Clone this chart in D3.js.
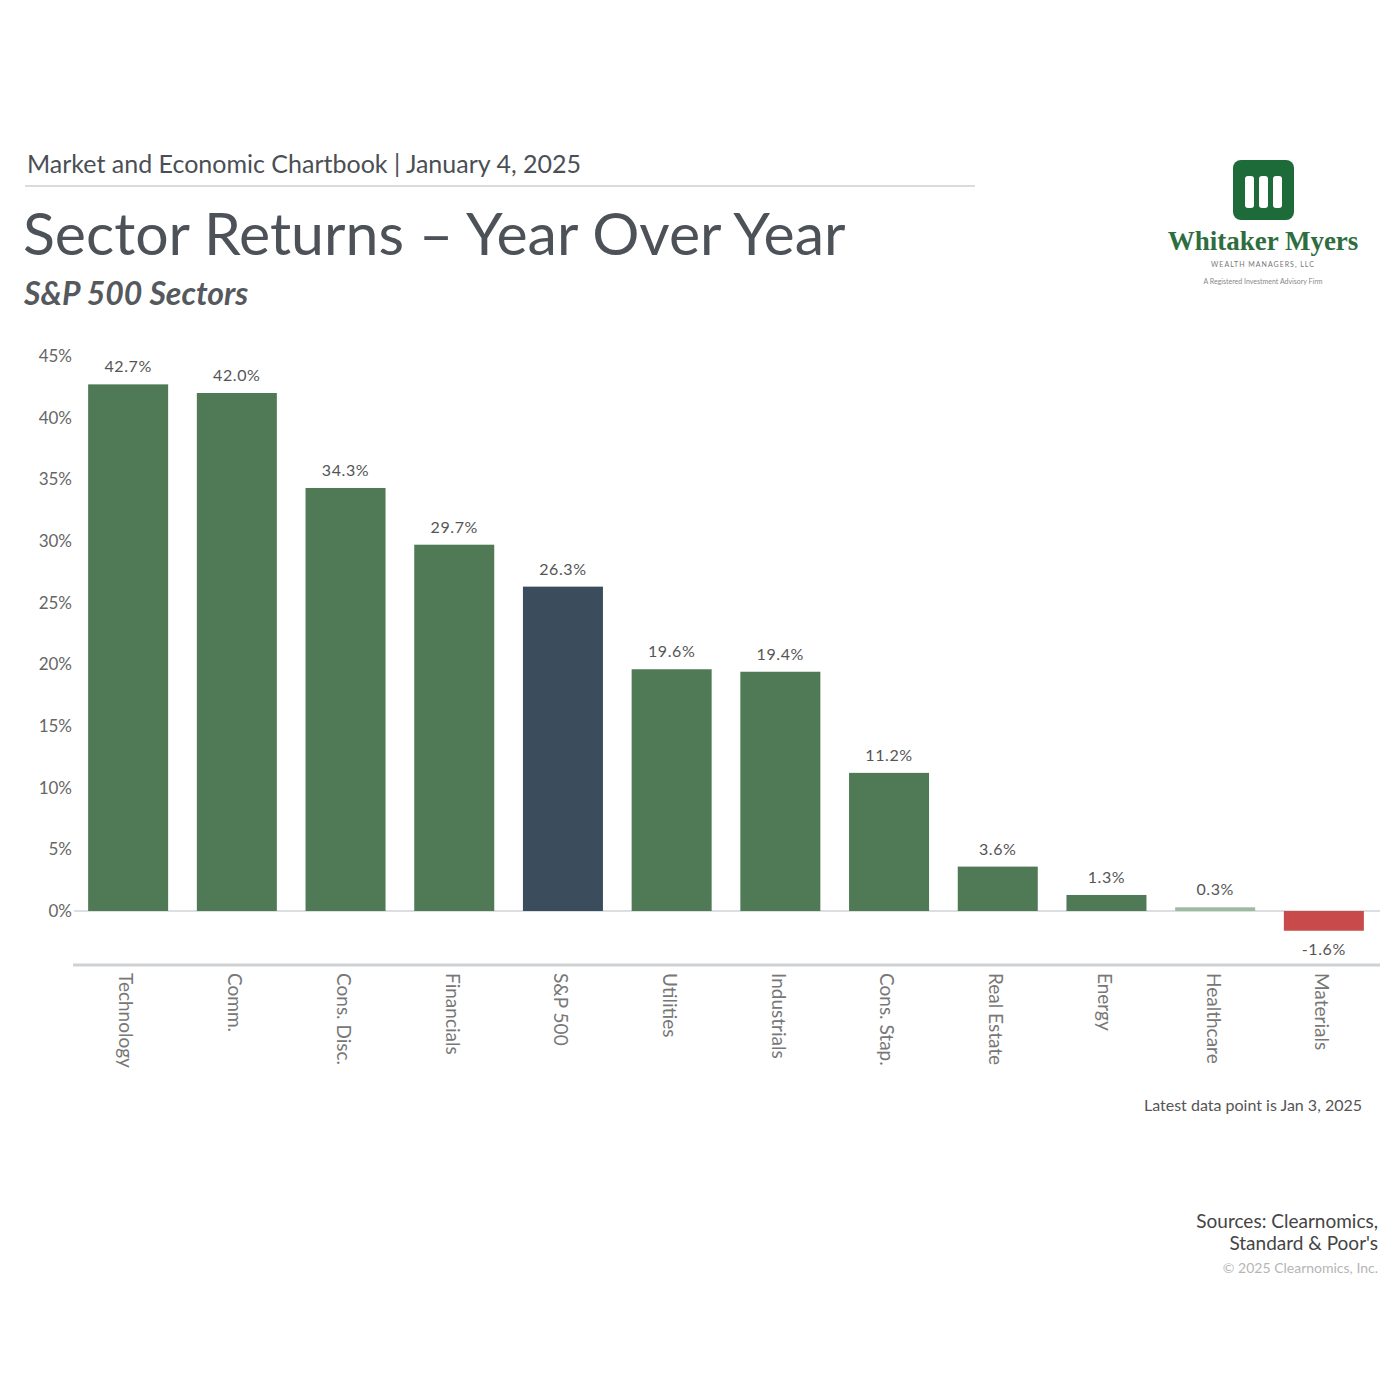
<!DOCTYPE html>
<html><head><meta charset="utf-8">
<script src="https://cdn.jsdelivr.net/npm/d3@7"></script>
<style>body{margin:0;background:#fff}svg{display:block}</style>
</head><body>
<svg id="c" width="1400" height="1400"></svg>
<script>
const categories = ["Technology","Comm.","Cons. Disc.","Financials","S&P 500","Utilities","Industrials","Cons. Stap.","Real Estate","Energy","Healthcare","Materials"];
const values = [42.7, 42.0, 34.3, 29.7, 26.3, 19.6, 19.4, 11.2, 3.6, 1.3, 0.3, -1.6];
const valueLabels = ["42.7%","42.0%","34.3%","29.7%","26.3%","19.6%","19.4%","11.2%","3.6%","1.3%","0.3%","-1.6%"];
const tickValues = [0,5,10,15,20,25,30,35,40,45];
const tickLabels = ["0%","5%","10%","15%","20%","25%","30%","35%","40%","45%"];

const svg = d3.select("#c");
const font = "Lato, 'Open Sans', sans-serif";

// header
svg.append("text").attr("x",27).attr("y",173).attr("font-family",font).attr("font-size",25)
  .attr("fill","#4a4f55").text("Market and Economic Chartbook | January 4, 2025");
svg.append("line").attr("x1",25).attr("x2",975).attr("y1",186).attr("y2",186).attr("stroke","#d9dcdf").attr("stroke-width",2);
svg.append("text").attr("x",23).attr("y",255).attr("font-family",font).attr("font-size",59)
  .attr("fill","#4d5259").text("Sector Returns – Year Over Year");
svg.append("text").attr("x",24).attr("y",305).attr("font-family",font).attr("font-size",32)
  .attr("font-style","italic").attr("font-weight","bold").attr("fill","#55595e").text("S&P 500 Sectors");

// logo
const lg = svg.append("g");
lg.append("rect").attr("x",1233).attr("y",160).attr("width",61).attr("height",60).attr("rx",8).attr("fill","#1e6b3a");
[1245,1259,1273].forEach(x=>{
  lg.append("rect").attr("x",x).attr("y",176).attr("width",9).attr("height",32).attr("rx",3).attr("fill","#fff");
});
lg.append("text").attr("x",1263).attr("y",250).attr("text-anchor","middle").attr("font-family","'Liberation Serif', serif")
  .attr("font-weight","bold").attr("font-size",27).attr("fill","#2e6e3e").text("Whitaker Myers");
lg.append("text").attr("x",1263).attr("y",267).attr("text-anchor","middle").attr("font-family",font)
  .attr("font-size",7).attr("letter-spacing",1).attr("fill","#777").text("WEALTH MANAGERS, LLC");
lg.append("text").attr("x",1263).attr("y",284).attr("text-anchor","middle").attr("font-family",font)
  .attr("font-size",7).attr("fill","#888").text("A Registered Investment Advisory Firm");

// scales
const x = d3.scaleBand().domain(categories).range([74,1378]).paddingInner(0.264).paddingOuter(0.13);
const y = d3.scaleLinear().domain([0,45]).range([911,356]);

// y axis labels
const yAxis = d3.axisLeft(y).tickValues(tickValues).tickFormat((d,i)=>tickLabels[i]).tickSize(0).tickPadding(0);
const ya = svg.append("g").attr("transform","translate(72,0)").call(yAxis);
ya.select(".domain").remove();
ya.selectAll("text").attr("font-family",font).attr("font-size",17).attr("fill","#666");

// zero line
svg.append("line").attr("x1",74).attr("x2",1380).attr("y1",y(0)).attr("y2",y(0)).attr("stroke","#dcdfe2").attr("stroke-width",2);

// bars
const colorFor = (c,v)=> c==="S&P 500" ? "#3b4c5c" : (v<0 ? "#c94a4a" : (Math.abs(v)<0.5 ? "#9dbb9f" : "#4f7a55"));
svg.append("g").selectAll("rect").data(categories).join("rect")
  .attr("x",d=>x(d)).attr("width",x.bandwidth())
  .attr("y",(d,i)=>Math.min(y(values[i]),y(0)))
  .attr("height",(d,i)=>Math.max(Math.abs(y(values[i])-y(0)),1.5))
  .attr("fill",(d,i)=>colorFor(d,values[i]));

// value labels
svg.append("g").selectAll("text").data(categories).join("text")
  .attr("x",d=>x(d)+x.bandwidth()/2)
  .attr("y",(d,i)=> values[i]>=0 ? y(values[i])-12 : y(values[i])+24)
  .attr("text-anchor","middle").attr("font-family",font).attr("font-size",16).attr("letter-spacing",0.6).attr("fill","#555")
  .text((d,i)=>valueLabels[i]);

// bottom axis
const xAxis = d3.axisBottom(x).tickSize(0).tickPadding(0);
const xa = svg.append("g").attr("transform","translate(0,965)").call(xAxis);
xa.select(".domain").remove();
svg.append("line").attr("x1",73).attr("x2",1380).attr("y1",965).attr("y2",965).attr("stroke","#cfd2d5").attr("stroke-width",3);
xa.selectAll("text")
  .attr("font-family",font).attr("font-size",19).attr("fill","#777")
  .attr("text-anchor","start").attr("dy","0.35em")
  .attr("transform","translate(-2,8) rotate(90)").attr("y",0).attr("x",0);

// footnotes
svg.append("text").attr("x",1362).attr("y",1111).attr("text-anchor","end").attr("font-family",font)
  .attr("font-size",16).attr("fill","#555").text("Latest data point is Jan 3, 2025");
svg.append("text").attr("x",1378).attr("y",1228).attr("text-anchor","end").attr("font-family",font)
  .attr("font-size",19).attr("fill","#444").text("Sources: Clearnomics,");
svg.append("text").attr("x",1378).attr("y",1250).attr("text-anchor","end").attr("font-family",font)
  .attr("font-size",19).attr("fill","#444").text("Standard & Poor's");
svg.append("text").attr("x",1378).attr("y",1273).attr("text-anchor","end").attr("font-family",font)
  .attr("font-size",14).attr("fill","#b5b5b5").text("© 2025 Clearnomics, Inc.");
</script>
</body></html>
